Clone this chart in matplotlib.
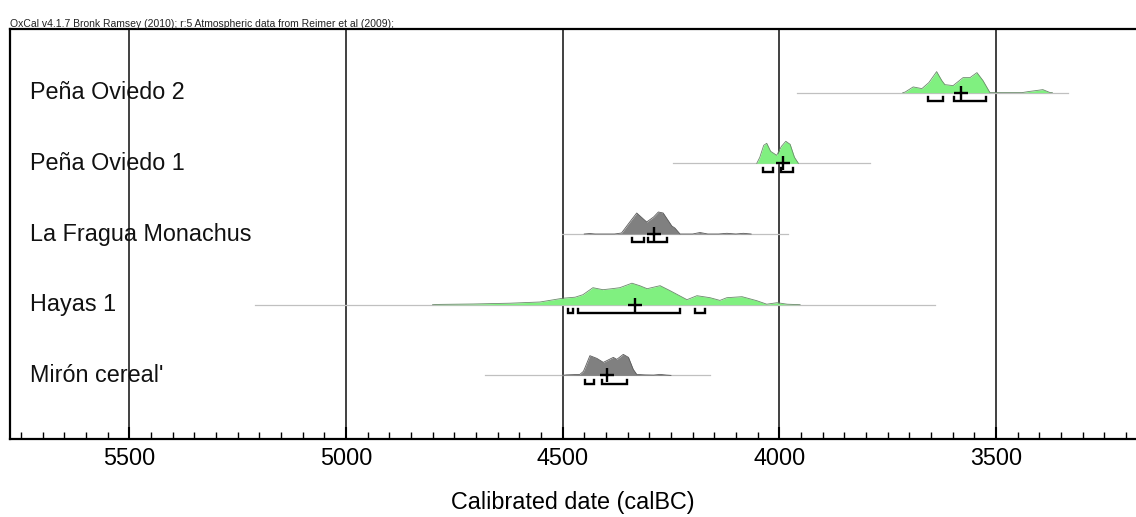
import numpy as np
import matplotlib.pyplot as plt

plt.rcParams['font.family'] = ['Liberation Sans', 'DejaVu Sans']

# muestras (de abajo hacia arriba)
muestras = ["Mirón cereal'", 'Hayas 1', 'La Fragua Monachus', 'Peña Oviedo 1', 'Peña Oviedo 2']
tipo = ['gris', 'verde', 'gris', 'verde', 'verde']

# extension de la linea horizontal (calBC)
rango_inicio = [4679, 5210, 4502, 4245, 3960]
rango_fin = [4160, 3641, 3979, 3791, 3335]

# media (+)
media = [4398, 4333, 4289, 3991, 3581]

# distribuciones de probabilidad (año calBC, densidad relativa)
miron_anio = [4500, 4491, 4460, 4452, 4448, 4437, 4421, 4406, 4383, 4375, 4360, 4348, 4337, 4329, 4310, 4290, 4275, 4260, 4250]
miron_dens = [0, 0.5, 1, 4, 8, 19.7, 17, 13, 18, 16, 21, 18, 6, 1, 0.5, 0.3, 1, 0.3, 0]

hayas_anio = [4800, 4783, 4707, 4621, 4552, 4499, 4471, 4453, 4430, 4407, 4386, 4368, 4340, 4322, 4305,
              4275, 4252, 4213, 4190, 4160, 4137, 4121, 4086, 4052, 4029, 4005, 3982, 3952]
hayas_dens = [0, 0.3, 0.7, 1.5, 2.7, 6.5, 7.5, 10, 17, 15, 16, 17, 21.5, 19, 16,
              19, 14, 5, 9, 7, 4.3, 7, 8, 4, 0.5, 2, 0.5, 0]

fragua_anio = [4450, 4437, 4425, 4380, 4364, 4345, 4329, 4306, 4290, 4279, 4268, 4248, 4241, 4229,
               4200, 4183, 4165, 4140, 4121, 4100, 4083, 4065]
fragua_dens = [0, 0.5, 0, 0, 1, 12, 21, 12, 17, 22, 21, 8, 6, 0,
               0, 1.5, 0, 0, 0.7, 0, 0.7, 0]

po1_anio = [4052, 4045, 4036, 4029, 4020, 4006, 3995, 3985, 3975, 3965, 3956]
po1_dens = [0, 6, 18, 20, 12, 8, 17, 22, 19, 6, 0]

po2_anio = [3715, 3710, 3691, 3671, 3655, 3637, 3625, 3618, 3599, 3576, 3560, 3544, 3530, 3514,
            3505, 3440, 3426, 3400, 3392, 3375, 3370]
po2_dens = [0, 0.5, 5.7, 4, 10, 21, 12, 8, 7, 15, 15, 20, 12, 0,
            0, 0, 1, 2.5, 3, 0, 0]

anios = [miron_anio, hayas_anio, fragua_anio, po1_anio, po2_anio]
densidades = [miron_dens, hayas_dens, fragua_dens, po1_dens, po2_dens]

# intervalos (corchetes)
miron_int = [(4448, 4428), (4410, 4352)]
hayas_int = [(4487, 4475), (4464, 4229), (4195, 4172)]
fragua_int = [(4341, 4312), (4302, 4260)]
po1_int = [(4038, 4015), (3997, 3968)]
po2_int = [(3656, 3623), (3597, 3524)]
intervalos = [miron_int, hayas_int, fragua_int, po1_int, po2_int]

colores = {'verde': ('#80f080', '#6a8a6a'), 'gris': ('#808080', '#5a5a5a')}

fig = plt.figure(figsize=(11.36, 5.17), dpi=100)
ax = fig.add_axes([10/1136, 78/517, 1126/1136, 410/517])

escala = 1/70.7  # px de densidad -> unidades de fila

for i, nombre in enumerate(muestras):
    y = i + 1
    ax.plot([rango_inicio[i], rango_fin[i]], [y, y], color='#c0c0c0', lw=0.9, zorder=2)
    a = np.array(anios[i])
    d = np.array(densidades[i]) * escala
    relleno, borde = colores[tipo[i]]
    ax.fill_between(a, y, y + d, color=relleno, lw=0, zorder=3)
    ax.plot(a, y + d, color=borde, lw=0.6, zorder=4)
    for (x0, x1) in intervalos[i]:
        ax.plot([x0, x0, x1, x1], [y - 0.06, y - 0.12, y - 0.12, y - 0.06],
                color='black', lw=1.7, solid_joinstyle='miter', zorder=5)
    ax.plot(media[i], y, marker='+', color='black', ms=10, mew=1.7, zorder=6)
    ax.text(0.018, y, nombre, transform=ax.get_yaxis_transform(), fontsize=16.8,
            va='center', ha='left', color='#111111')

# lineas verticales
for x in [5500, 5000, 4500, 4000, 3500]:
    ax.axvline(x, color='#404040', lw=1.4, zorder=1)

ax.set_xlim(5775, 3177)
ax.set_ylim(0.1, 5.9)
ax.set_yticks([])
ax.set_xticks([5500, 5000, 4500, 4000, 3500])
ax.set_xticks(np.arange(3200, 5800, 50), minor=True)
ax.tick_params(axis='x', which='major', direction='in', length=9, width=1.5, labelsize=16.8, pad=6)
ax.tick_params(axis='x', which='minor', direction='in', length=5, width=1)
for s in ['left', 'bottom', 'top']:
    ax.spines[s].set_linewidth(1.6)
ax.spines['right'].set_visible(False)
ax.set_xlabel('Calibrated date (calBC)', fontsize=16.8, labelpad=15)

fig.text(10/1136, 1 - 27/517, 'OxCal v4.1.7 Bronk Ramsey (2010); r:5 Atmospheric data from Reimer et al (2009);',
         fontsize=7.5, va='baseline', ha='left', color='#222222')

fig.savefig('out.png', dpi=100)
